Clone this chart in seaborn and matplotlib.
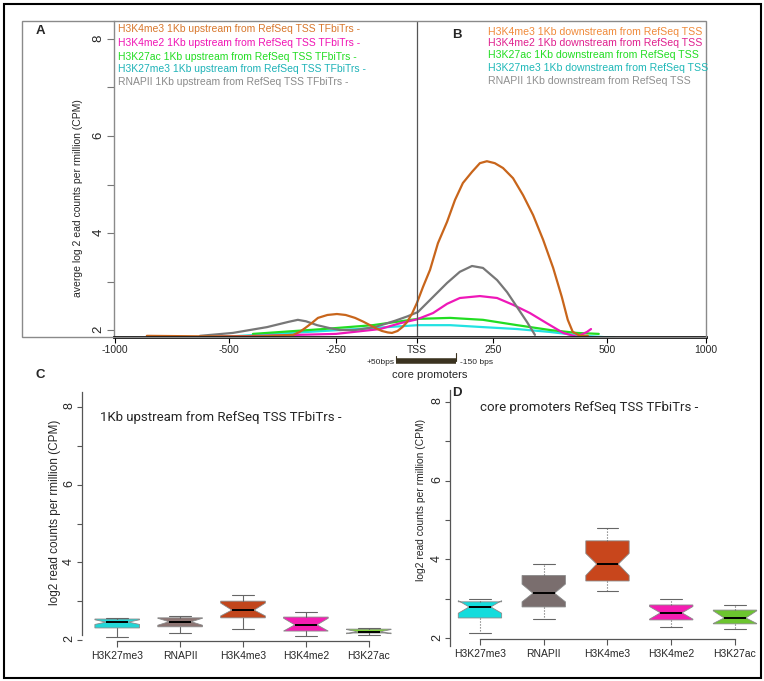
import numpy as np
import pandas as pd
import matplotlib
matplotlib.use("Agg")
import matplotlib.pyplot as plt
from matplotlib.patches import Rectangle
import matplotlib.transforms as mtransforms
import seaborn as sns

# ---- panel A/B : average profile around the TSS (bp, log2 CPM) ----
k4me3_bp = [-860, -627, -428, -350, -335, -322, -307, -292, -270, -247, -220, -191, -165, -145, -125,
            -108, -90, -77, -60, -45, -31, -15, 0, 20, 43, 69, 99, 125, 151, 181, 207, 230, 254, 272,
            294, 316, 338, 360, 382, 401, 414, 425, 441, 458]
k4me3_val = [1.88, 1.87, 1.87, 1.90, 1.96, 2.04, 2.14, 2.25, 2.31, 2.33, 2.31, 2.25, 2.17, 2.10, 2.03,
             1.98, 1.95, 1.94, 1.98, 2.06, 2.16, 2.34, 2.56, 2.89, 3.24, 3.79, 4.23, 4.68, 5.03, 5.26,
             5.44, 5.48, 5.44, 5.34, 5.13, 4.78, 4.37, 3.86, 3.28, 2.68, 2.21, 1.96, 1.88, 1.88]

rnapii_bp = [-627, -491, -411, -360, -339, -320, -294, -265, -238, -191, -130, -68, -30, 3, 43, 99,
             141, 181, 217, 259, 281, 303, 325, 342]
rnapii_val = [1.88, 1.94, 2.06, 2.17, 2.21, 2.18, 2.10, 2.04, 2.00, 2.00, 2.06, 2.19, 2.28, 2.37, 2.62,
              2.97, 3.20, 3.32, 3.28, 3.03, 2.78, 2.47, 2.16, 1.90]

k4me2_bp = [-570, -428, -250, -114, -52, 0, 53, 99, 141, 207, 259, 294, 331, 368, 404, 434, 456, 465]
k4me2_val = [1.86, 1.88, 1.92, 2.02, 2.14, 2.22, 2.35, 2.54, 2.66, 2.70, 2.66, 2.52, 2.35, 2.14, 1.94,
             1.86, 1.96, 2.02]

k27ac_bp = [-444, -280, -136, 3, 109, 217, 303, 375, 434, 482]
k27ac_val = [1.92, 2.02, 2.10, 2.23, 2.25, 2.21, 2.10, 2.00, 1.94, 1.92]

k27me3_bp = [-592, -435, -185, 3, 109, 217, 303, 375, 447, 540]
k27me3_val = [1.84, 1.90, 2.02, 2.10, 2.10, 2.06, 2.02, 1.96, 1.88, 1.84]

xtick_bp = [-1000, -500, -250, 0, 250, 500, 1000]
xtick_labels = ["-1000", "-500", "-250", "TSS", "250", "500", "1000"]

legend_up = ["H3K4me3 1Kb upstream from RefSeq TSS TFbiTrs -",
             "H3K4me2 1Kb upstream from RefSeq TSS TFbiTrs -",
             "H3K27ac 1Kb upstream from RefSeq TSS TFbiTrs -",
             "H3K27me3 1Kb upstream from RefSeq TSS TFbiTrs -",
             "RNAPII 1Kb upstream from RefSeq TSS TFbiTrs -"]
legend_down = ["H3K4me3 1Kb downstream from RefSeq TSS",
               "H3K4me2 1Kb downstream from RefSeq TSS",
               "H3K27ac 1Kb downstream from RefSeq TSS",
               "H3K27me3 1Kb downstream from RefSeq TSS",
               "RNAPII 1Kb downstream from RefSeq TSS"]

# ---- panels C/D : box summaries ----
box_marks = ["H3K27me3", "RNAPII", "H3K4me3", "H3K4me2", "H3K27ac"]

up_whislo = [2.08, 2.18, 2.28, 2.10, 2.13]
up_q1 = [2.31, 2.34, 2.57, 2.23, 2.18]
up_med = [2.46, 2.47, 2.77, 2.39, 2.21]
up_q3 = [2.54, 2.57, 3.00, 2.59, 2.28]
up_whishi = [2.57, 2.62, 3.16, 2.72, 2.31]
up_cilo = [2.40, 2.38, 2.62, 2.23, 2.16]
up_cihi = [2.52, 2.56, 2.95, 2.56, 2.27]

core_whislo = [2.13, 2.48, 3.20, 2.29, 2.22]
core_q1 = [2.51, 2.79, 3.45, 2.46, 2.36]
core_med = [2.79, 3.14, 3.88, 2.64, 2.51]
core_q3 = [2.92, 3.59, 4.47, 2.84, 2.71]
core_whishi = [2.99, 3.88, 4.80, 2.99, 2.84]
core_cilo = [2.63, 2.92, 3.59, 2.48, 2.37]
core_cihi = [2.95, 3.37, 4.15, 2.80, 2.69]

# colours
line_colors = {"H3K4me3": "#C8651B", "H3K4me2": "#EE18B8", "H3K27ac": "#22DD22",
               "H3K27me3": "#22E2E2", "RNAPII": "#777777"}
up_text_colors = ["#D8772C", "#F014B4", "#22DD22", "#1FB3B8", "#8A8A8A"]
down_text_colors = ["#F08A3A", "#E0208E", "#22DD22", "#1FB8B8", "#909090"]
up_box_colors = ["#22D6D6", "#8C7472", "#C2461C", "#F51DB2", "#7FD23C"]
core_box_colors = ["#14DCDC", "#7A6E6E", "#C8461C", "#F51DB2", "#6CC52F"]

W, H = 764, 681
sns.set_style("white")
plt.rcParams["font.family"] = ["Liberation Sans", "DejaVu Sans"]

fig = plt.figure(figsize=(W / 100, H / 100), dpi=100)


def fx(px):
    return px / W


def fy(py):
    return 1 - py / H


def ptext(x, y, s, **kw):
    fig.text(fx(x), fy(y), s, **kw)


# outer border and frame of A/B
fig.add_artist(Rectangle((fx(4), fy(678)), 757 / W, 674 / H, transform=fig.transFigure,
                         fill=False, edgecolor="black", lw=1.5))
fig.add_artist(Rectangle((fx(22), fy(337)), 684 / W, 316 / H, transform=fig.transFigure,
                         fill=False, edgecolor="#8a8a8a", lw=1.0))

# ---------------- panel A/B ----------------
axA = fig.add_axes([fx(114), fy(337), (706 - 114) / W, (337 - 21) / H])

df = pd.concat([
    pd.DataFrame({"mark": "H3K27me3", "bp": k27me3_bp, "val": k27me3_val}),
    pd.DataFrame({"mark": "H3K27ac", "bp": k27ac_bp, "val": k27ac_val}),
    pd.DataFrame({"mark": "H3K4me2", "bp": k4me2_bp, "val": k4me2_val}),
    pd.DataFrame({"mark": "RNAPII", "bp": rnapii_bp, "val": rnapii_val}),
    pd.DataFrame({"mark": "H3K4me3", "bp": k4me3_bp, "val": k4me3_val}),
])
sns.lineplot(data=df, x="bp", y="val", hue="mark", palette=line_colors,
             estimator=None, legend=False, lw=1.6, ax=axA)

# the original x axis is not linear between labels
knots_bp = np.array([-2000, -1000, -500, -250, 0, 250, 500, 1000, 2000])
knots_px = np.array([-113, 115, 229, 336, 417, 493, 607, 706, 904])
axA.set_xscale("function", functions=(lambda x: np.interp(x, knots_bp, knots_px),
                                      lambda p: np.interp(p, knots_px, knots_bp)))
axA.set_xlim(-1004, 1000)
axA.set_ylim(1.856, 8.371)
axA.axvline(0, color="#555555", lw=0.9)

axA.set_xticks(xtick_bp)
axA.set_xticklabels(xtick_labels)
axA.set_yticks([2, 3, 4, 5, 6, 7, 8])
axA.set_yticklabels(["2", "", "4", "", "6", "", "8"])
axA.tick_params(axis="y", labelrotation=90, length=5, color="#777777", direction="out",
                left=True, pad=2, labelsize=9.5)
axA.tick_params(axis="x", length=4, color="black", direction="out", bottom=True, pad=2,
                labelsize=7.5)
for s in ["top", "right"]:
    axA.spines[s].set_visible(False)
axA.spines["left"].set_color("#8a8a8a")
axA.spines["left"].set_linewidth(1.0)
axA.spines["bottom"].set_color("black")
axA.spines["bottom"].set_linewidth(2.0)
axA.set_xlabel("")
axA.set_ylabel("")
axA.patch.set_alpha(0)

# core promoter bar below the axis
trans = mtransforms.blended_transform_factory(axA.transData, axA.transAxes)
bar_y = (337 - 361) / 316
axA.plot([-65, 130], [bar_y, bar_y], color="#3b3320", lw=4, solid_capstyle="butt",
         transform=trans, clip_on=False)
axA.plot([130, 130], [bar_y, (337 - 353) / 316], color="#3b3320", lw=0.8,
         transform=trans, clip_on=False)
axA.plot([-65, -65], [bar_y, (337 - 356) / 316], color="#3b3320", lw=0.8,
         transform=trans, clip_on=False)
ptext(395, 362, "+50bps", fontsize=6, ha="right", va="center")
ptext(460, 362, "-150 bps", fontsize=6, ha="left", va="center")
ptext(430, 375, "core promoters", fontsize=8, ha="center", va="center")

ptext(40, 31, "A", fontsize=9.5, fontweight="bold", ha="center", va="center")
ptext(457, 35, "B", fontsize=9.5, fontweight="bold", ha="center", va="center")
ptext(78, 198, "averge log 2 ead counts per rmillion (CPM)", fontsize=7.5,
      rotation=90, ha="center", va="center")

for i, (txt, c) in enumerate(zip(legend_up, up_text_colors)):
    ptext(118, [29, 43, 57, 69, 82][i], txt, fontsize=7.5, color=c, ha="left", va="center")
for i, (txt, c) in enumerate(zip(legend_down, down_text_colors)):
    ptext(488, [32, 43, 55, 68, 81][i], txt, fontsize=7.6, color=c, ha="left", va="center")


# ---------------- panels C / D ----------------
def box_panel(ax, whislo, q1, med, q3, whishi, cilo, cihi, colors, width, wls):
    stats = []
    for i in range(len(box_marks)):
        stats.append({"whislo": whislo[i], "q1": q1[i], "med": med[i],
                      "q3": q3[i], "whishi": whishi[i], "cilo": cilo[i], "cihi": cihi[i],
                      "fliers": []})
    bp = ax.bxp(stats, positions=range(len(box_marks)), widths=width, shownotches=True,
                patch_artist=True, showfliers=False, manage_ticks=False,
                boxprops=dict(edgecolor="#8a8a8a", lw=0.6),
                whiskerprops=dict(color="#666666", lw=0.8, linestyle=wls),
                capprops=dict(color="#666666", lw=0.8),
                medianprops=dict(color="black", lw=1.4))
    for patch, c in zip(bp["boxes"], colors):
        patch.set_facecolor(c)
    ax.set_xticks(range(len(box_marks)))
    ax.set_xticklabels(box_marks)
    ax.set_yticks([2, 3, 4, 5, 6, 7, 8])
    ax.set_yticklabels(["2", "", "4", "", "6", "", "8"])
    ax.tick_params(axis="y", labelrotation=90, length=3.5, color="#555555", left=True,
                   pad=1.5, labelsize=9)
    ax.tick_params(axis="x", length=4, color="#555555", bottom=True, pad=3, labelsize=7.5)
    for s in ["top", "right"]:
        ax.spines[s].set_visible(False)
    for s in ["left", "bottom"]:
        ax.spines[s].set_color("#555555")
        ax.spines[s].set_linewidth(0.9)
    ax.spines["bottom"].set_position(("data", 1.975))
    ax.spines["bottom"].set_bounds(0, len(box_marks) - 1)
    ax.patch.set_alpha(0)


axC = fig.add_axes([fx(82), fy(646), 322 / W, 254 / H])
box_panel(axC, up_whislo, up_q1, up_med, up_q3, up_whishi, up_cilo, up_cihi,
          up_box_colors, 0.71, "-")
axC.set_xlim(-0.56, 4.56)
axC.set_ylim(1.845, 8.387)
axC.spines["left"].set_bounds(2.13, 8.387)

axD = fig.add_axes([fx(450), fy(646), 314 / W, 256 / H])
box_panel(axD, core_whislo, core_q1, core_med, core_q3, core_whishi, core_cilo, core_cihi,
          core_box_colors, 0.68, ":")
axD.set_xlim(-0.47, 4.455)
axD.set_ylim(1.797, 8.305)

ptext(40, 375, "C", fontsize=9.5, fontweight="bold", ha="center", va="center")
ptext(457, 393, "D", fontsize=9.5, fontweight="bold", ha="center", va="center")
ptext(100, 417, "1Kb upstream from RefSeq TSS TFbiTrs -", fontsize=9.5,
      family=["Roboto", "DejaVu Sans"], ha="left", va="center")
ptext(480, 407, "core promoters RefSeq TSS TFbiTrs -", fontsize=9.5,
      family=["Roboto", "DejaVu Sans"], ha="left", va="center")
ptext(55, 512, "log2 read counts per rmillion (CPM)", fontsize=8.5,
      rotation=90, ha="center", va="center")
ptext(421, 500, "log2 read counts per rmillion (CPM)", fontsize=7.4,
      rotation=90, ha="center", va="center")

fig.savefig("out.png", dpi=100)
